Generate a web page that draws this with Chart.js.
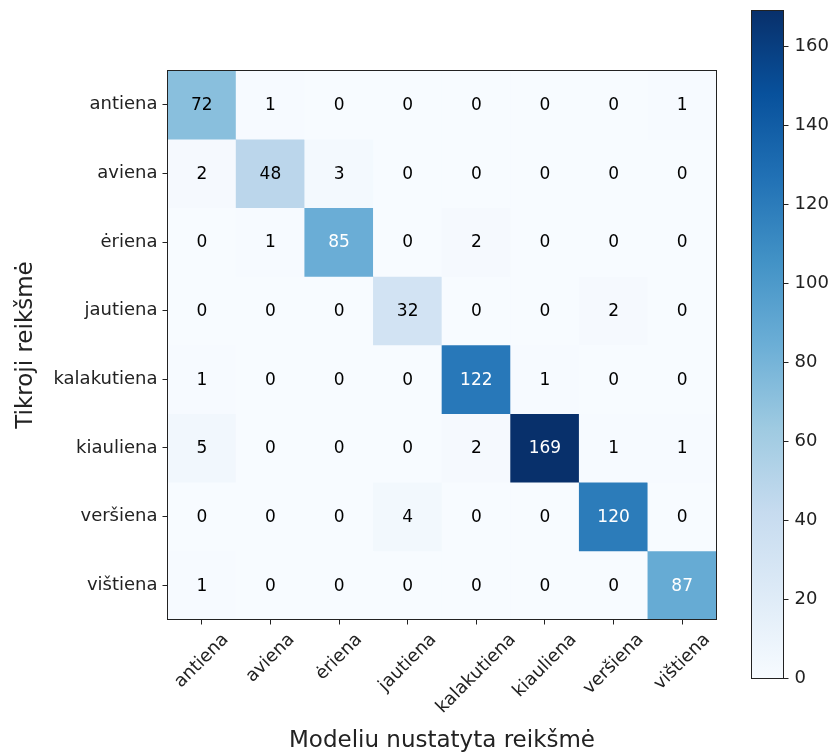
<!DOCTYPE html>
<html>
<head>
<meta charset="utf-8">
<title>Klasifikavimo klaidų matrica</title>
<script src="https://cdn.jsdelivr.net/npm/chart.js@4/dist/chart.umd.min.js"></script>
<style>
  html, body { margin: 0; padding: 0; background: #fff; }
  #wrap { position: relative; width: 832px; height: 754px; }
  #wrap canvas { position: absolute; top: 0; }
</style>
</head>
<body>
<div id="wrap">
  <canvas id="matrix" width="832" height="754" style="left:0"></canvas>
  <canvas id="colorbar" width="92" height="754" style="left:740px"></canvas>
</div>
<script>
// Meat classes (rows: true class, columns: predicted class)
const classLabels = ['antiena', 'aviena', 'ėriena', 'jautiena', 'kalakutiena', 'kiauliena', 'veršiena', 'vištiena'];

// Confusion counts, one row per true class
const countsAntiena     = [72, 1, 0, 0, 0, 0, 0, 1];
const countsAviena      = [2, 48, 3, 0, 0, 0, 0, 0];
const countsEriena      = [0, 1, 85, 0, 2, 0, 0, 0];
const countsJautiena    = [0, 0, 0, 32, 0, 0, 2, 0];
const countsKalakutiena = [1, 0, 0, 0, 122, 1, 0, 0];
const countsKiauliena   = [5, 0, 0, 0, 2, 169, 1, 1];
const countsVersiena    = [0, 0, 0, 4, 0, 0, 120, 0];
const countsVistiena    = [1, 0, 0, 0, 0, 0, 0, 87];
const matrixRows = [countsAntiena, countsAviena, countsEriena, countsJautiena,
                    countsKalakutiena, countsKiauliena, countsVersiena, countsVistiena];

// Colour scale range and colour bar ticks
const colorMin = 0;
const colorMax = 169;
const colorbarTicks = [0, 20, 40, 60, 80, 100, 120, 140, 160];

const xTitle = 'Modeliu nustatyta reikšmė';
const yTitle = 'Tikroji reikšmė';

// "Blues" sequential palette, evenly spaced stops
const bluesStops = ['#f7fbff', '#deebf7', '#c6dbef', '#9ecae1', '#6baed6',
                    '#4292c6', '#2171b5', '#08519c', '#08306b'];

function hexToRgb(h) {
  return [parseInt(h.slice(1, 3), 16), parseInt(h.slice(3, 5), 16), parseInt(h.slice(5, 7), 16)];
}
function blues(t) {
  t = Math.max(0, Math.min(1, t));
  const n = bluesStops.length - 1;
  const i = Math.min(n - 1, Math.floor(t * n));
  const f = t * n - i;
  const a = hexToRgb(bluesStops[i]), b = hexToRgb(bluesStops[i + 1]);
  const c = a.map((v, k) => Math.round(v + (b[k] - v) * f));
  return `rgb(${c[0]},${c[1]},${c[2]})`;
}
const norm = v => (v - colorMin) / (colorMax - colorMin);
const textThreshold = colorMax / 2;

const FONT = 'DejaVu Sans';
const INK = '#222';
Chart.defaults.font.family = FONT;
Chart.defaults.color = INK;

// Each true-class row is one dataset of floating bars spanning its cell on the y scale
const datasets = matrixRows.map((row, r) => ({
  label: classLabels[r],
  data: row.map(() => [r - 0.5, r + 0.5]),
  values: row,
  backgroundColor: row.map(v => blues(norm(v))),
  borderWidth: 0,
  grouped: false,
  barPercentage: 1,
  categoryPercentage: 1
}));

// Cell annotations, rotated predicted-class labels and the frame
const matrixDecor = {
  id: 'matrixDecor',
  afterDatasetsDraw(chart) {
    const { ctx, chartArea } = chart;
    ctx.save();
    ctx.font = `17px "${FONT}"`;
    ctx.textAlign = 'center';
    ctx.textBaseline = 'middle';
    chart.data.datasets.forEach((ds, r) => {
      chart.getDatasetMeta(r).data.forEach((el, c) => {
        const v = ds.values[c];
        const p = el.getCenterPoint();
        ctx.fillStyle = v > textThreshold ? '#ffffff' : '#000000';
        ctx.fillText(String(v), p.x, p.y + 1);
      });
    });
    ctx.strokeStyle = INK;
    ctx.lineWidth = 1;
    ctx.strokeRect(chartArea.left, chartArea.top,
                   chartArea.right - chartArea.left, chartArea.bottom - chartArea.top);
    ctx.restore();
  },
  afterDraw(chart) {
    const { ctx, chartArea } = chart;
    const xs = chart.scales.x;
    ctx.save();
    ctx.font = `18px "${FONT}"`;
    ctx.fillStyle = INK;
    ctx.textAlign = 'center';
    ctx.textBaseline = 'middle';
    const h = 18 * 1.17;
    classLabels.forEach((lab, i) => {
      const x = xs.getPixelForTick(i);
      const w = ctx.measureText(lab).width;
      const boxH = (w + h) * Math.SQRT1_2;
      const cy = chartArea.bottom + 5 + 5 + boxH / 2;
      ctx.save();
      ctx.translate(x, cy);
      ctx.rotate(-Math.PI / 4);
      ctx.fillText(lab, 0, 0);
      ctx.restore();
    });
    ctx.restore();
  }
};

new Chart(document.getElementById('matrix'), {
  type: 'bar',
  data: { labels: classLabels, datasets },
  options: {
    responsive: false,
    animation: false,
    events: [],
    layout: { padding: { left: 0, top: 70.5, right: 115.5, bottom: 0 } },
    plugins: { legend: { display: false }, tooltip: { enabled: false } },
    scales: {
      x: {
        type: 'category',
        offset: true,
        ticks: { display: false },
        grid: { offset: false, drawOnChartArea: false, drawTicks: true, tickLength: 5, color: INK, lineWidth: 1 },
        border: { display: false },
        title: { display: true, text: xTitle, color: INK, font: { size: 23 }, padding: { top: 0, bottom: -1 } },
        afterFit(scale) { scale.height = 134.5; }
      },
      y: {
        type: 'linear',
        reverse: true,
        min: -0.5,
        max: classLabels.length - 0.5,
        afterBuildTicks(scale) { scale.ticks = classLabels.map((_, i) => ({ value: i })); },
        ticks: {
          callback: v => classLabels[v],
          font: { size: 18 },
          color: INK,
          padding: 5,
          autoSkip: false
        },
        grid: { drawOnChartArea: false, drawTicks: true, tickLength: 5, color: INK, lineWidth: 1 },
        border: { display: false },
        title: { display: true, text: yTitle, color: INK, font: { size: 23 }, padding: { top: 12, bottom: 0 } },
        afterFit(scale) { scale.width = 167.5; }
      }
    }
  },
  plugins: [matrixDecor]
});

// Colour bar: one floating bar covering the full value range, filled with the palette
const colorbarFrame = {
  id: 'colorbarFrame',
  afterDatasetsDraw(chart) {
    const { ctx, chartArea } = chart;
    ctx.save();
    ctx.strokeStyle = INK;
    ctx.lineWidth = 1;
    ctx.strokeRect(chartArea.left, chartArea.top,
                   chartArea.right - chartArea.left, chartArea.bottom - chartArea.top);
    ctx.restore();
  }
};

new Chart(document.getElementById('colorbar'), {
  type: 'bar',
  data: {
    labels: ['skala'],
    datasets: [{
      data: [[colorMin, colorMax]],
      borderWidth: 0,
      barPercentage: 1,
      categoryPercentage: 1,
      backgroundColor(context) {
        const { chart } = context;
        const area = chart.chartArea;
        if (!area) return bluesStops[0];
        const ys = chart.scales.y;
        const g = chart.ctx.createLinearGradient(0, ys.getPixelForValue(colorMin), 0, ys.getPixelForValue(colorMax));
        bluesStops.forEach((c, i) => g.addColorStop(i / (bluesStops.length - 1), c));
        return g;
      }
    }]
  },
  options: {
    responsive: false,
    animation: false,
    events: [],
    layout: { padding: { left: 11.5, top: 10.5, right: 0, bottom: 75.5 } },
    plugins: { legend: { display: false }, tooltip: { enabled: false } },
    scales: {
      x: { display: false },
      y: {
        type: 'linear',
        position: 'right',
        min: colorMin,
        max: colorMax,
        afterBuildTicks(scale) { scale.ticks = colorbarTicks.map(v => ({ value: v })); },
        ticks: { font: { size: 18 }, color: INK, padding: 6, autoSkip: false },
        grid: { drawOnChartArea: false, drawTicks: true, tickLength: 5, color: INK, lineWidth: 1 },
        border: { display: false },
        afterFit(scale) {
          scale.width = 48.5;
          scale.paddingTop = 0;
          scale.paddingBottom = 0;
        }
      }
    }
  },
  plugins: [colorbarFrame]
});
</script>
</body>
</html>
